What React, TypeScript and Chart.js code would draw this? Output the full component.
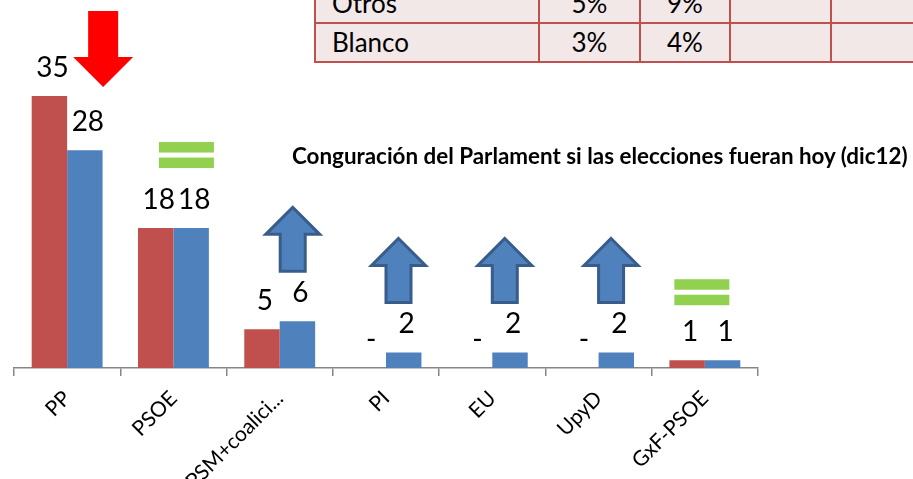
import React, { useEffect, useRef } from 'react';
import { Chart, registerables } from 'chart.js';

Chart.register(...registerables);

// ---- data ----
const categories = ['PP', 'PSOE', 'PSM+coalici...', 'PI', 'EU', 'UpyD', 'GxF-PSOE'];
const seatsBefore = [35, 18, 5, 0, 0, 0, 1];
const seatsToday = [28, 18, 6, 2, 2, 2, 1];
const trend = ['down', 'equal', 'up', 'up', 'up', 'up', 'equal'];
const tableRows = [
  ['Otros', '5%', '9%', '', ''],
  ['Blanco', '3%', '4%', '', ''],
];
const titleText = 'Conguración del Parlament si las elecciones fueran hoy (dic12)';

const RED = '#c0504d';
const BLUE = '#4f81bd';
const FONT = 'Lato, "Open Sans", sans-serif';

// marker placement relative to category centre / bar tops (styling only)
const markerOffsets = [
  { dx: 36, gap: 9 },
  { dx: 13, gap: 60 },
  { dx: 13, gap: 50 },
  { dx: 12.5, gap: 50 },
  { dx: 12.5, gap: 50 },
  { dx: 12.5, gap: 50 },
  { dx: -3, gap: 55 },
];

function drawUp(ctx: CanvasRenderingContext2D, cx: number, bottom: number) {
  const h = 64, headH = 27, headW = 54, shaftW = 25;
  const top = bottom - h;
  ctx.beginPath();
  ctx.moveTo(cx, top);
  ctx.lineTo(cx + headW / 2, top + headH);
  ctx.lineTo(cx + shaftW / 2, top + headH);
  ctx.lineTo(cx + shaftW / 2, bottom);
  ctx.lineTo(cx - shaftW / 2, bottom);
  ctx.lineTo(cx - shaftW / 2, top + headH);
  ctx.lineTo(cx - headW / 2, top + headH);
  ctx.closePath();
  ctx.fillStyle = BLUE;
  ctx.fill();
  ctx.lineWidth = 3;
  ctx.strokeStyle = '#385d8a';
  ctx.lineJoin = 'miter';
  ctx.stroke();
}

function drawDown(ctx: CanvasRenderingContext2D, cx: number, tip: number) {
  const top = tip - 76, shaftBottom = tip - 30;
  ctx.beginPath();
  ctx.moveTo(cx - 15, top);
  ctx.lineTo(cx + 15, top);
  ctx.lineTo(cx + 15, shaftBottom);
  ctx.lineTo(cx + 30, shaftBottom);
  ctx.lineTo(cx, tip);
  ctx.lineTo(cx - 30, shaftBottom);
  ctx.lineTo(cx - 15, shaftBottom);
  ctx.closePath();
  ctx.fillStyle = '#ff0000';
  ctx.fill();
}

function drawEqual(ctx: CanvasRenderingContext2D, cx: number, bottom: number) {
  ctx.fillStyle = '#92d050';
  ctx.fillRect(cx - 27.5, bottom - 26, 55, 10.5);
  ctx.fillRect(cx - 27.5, bottom - 10.5, 55, 10.5);
}

const labelsPlugin = {
  id: 'valueLabels',
  afterDatasetsDraw(chart: any) {
    const ctx = chart.ctx as CanvasRenderingContext2D;
    ctx.save();
    ctx.font = `28px ${FONT}`;
    ctx.fillStyle = '#000';
    ctx.textAlign = 'center';
    ctx.textBaseline = 'alphabetic';
    chart.data.datasets.forEach((ds: any, di: number) => {
      const meta = chart.getDatasetMeta(di);
      meta.data.forEach((bar: any, i: number) => {
        const v = ds.data[i];
        const txt = v === 0 ? '-' : String(v);
        ctx.fillText(txt, bar.x + 3, bar.y - 19);
      });
    });
    ctx.restore();
  },
};

const markersPlugin = {
  id: 'trendMarkers',
  afterDraw(chart: any) {
    const ctx = chart.ctx as CanvasRenderingContext2D;
    const x = chart.scales.x;
    const y = chart.scales.y;
    ctx.save();
    trend.forEach((t, i) => {
      const off = markerOffsets[i];
      const cx = x.getPixelForValue(i) + off.dx;
      const topVal = Math.max(seatsBefore[i], seatsToday[i]);
      const barTop = y.getPixelForValue(topVal);
      if (t === 'up') drawUp(ctx, cx, barTop - off.gap);
      else if (t === 'equal') drawEqual(ctx, cx, barTop - off.gap);
      else drawDown(ctx, cx, barTop - off.gap);
    });
    ctx.restore();
  },
};

export default function App() {
  const ref = useRef<HTMLCanvasElement>(null);
  useEffect(() => {
    document.body.style.margin = '0';
    const chart = new Chart(ref.current as HTMLCanvasElement, {
      type: 'bar',
      data: {
        labels: categories,
        datasets: [
          { label: 'Antes', data: seatsBefore, backgroundColor: RED, categoryPercentage: 0.667, barPercentage: 1 },
          { label: 'Hoy', data: seatsToday, backgroundColor: BLUE, categoryPercentage: 0.667, barPercentage: 1 },
        ],
      },
      options: {
        responsive: false,
        animation: false,
        devicePixelRatio: 1,
        layout: { padding: { left: 14, right: 155, top: 57, bottom: 0 } },
        plugins: { legend: { display: false }, tooltip: { enabled: false }, title: { display: false } },
        scales: {
          x: {
            afterFit: (s: any) => { s.height = 111; },
            border: { display: true, color: '#868686', width: 1.5 },
            grid: { display: true, drawOnChartArea: false, drawTicks: true, tickLength: 8, color: '#868686', lineWidth: 1.5, offset: true },
            ticks: {
              color: '#000',
              font: { family: FONT, size: 21 },
              minRotation: 45,
              maxRotation: 45,
              autoSkip: false,
              padding: 10,
            },
          },
          y: { display: false, min: 0, max: 40 },
        },
      },
      plugins: [labelsPlugin, markersPlugin],
    });
    return () => chart.destroy();
  }, []);

  const colW = [224, 101, 90, 101, 100];
  const tableW = colW.reduce((a, b) => a + b, 0);
  return (
    <div style={{ position: 'absolute', left: 0, top: 0, width: 913, height: 479, overflow: 'hidden', background: '#fff' }}>
      <canvas ref={ref} width={913} height={479} style={{ position: 'absolute', left: 0, top: 0 }} />
      <table
        style={{
          position: 'absolute', left: 314, top: -17, width: tableW, borderCollapse: 'collapse', tableLayout: 'fixed',
          fontFamily: FONT, fontSize: 26, color: '#000', background: '#f2e8e8',
        }}
      >
        <colgroup>
          {colW.map((w, i) => <col key={i} style={{ width: w }} />)}
        </colgroup>
        <tbody>
          {tableRows.map((r, ri) => (
            <tr key={ri} style={{ height: 39 }}>
              {r.map((c, ci) => (
                <td key={ci} style={{
                  border: `2px solid ${RED}`, padding: 0, paddingLeft: ci === 0 ? 16 : 0,
                  textAlign: ci === 0 ? 'left' : 'center', lineHeight: '35px', height: 35,
                }}>{c}</td>
              ))}
            </tr>
          ))}
        </tbody>
      </table>
      <div style={{
        position: 'absolute', left: 292, top: 142, fontFamily: FONT, fontWeight: 700, fontSize: 22.4,
        whiteSpace: 'nowrap', color: '#000',
      }}>{titleText}</div>
    </div>
  );
}
